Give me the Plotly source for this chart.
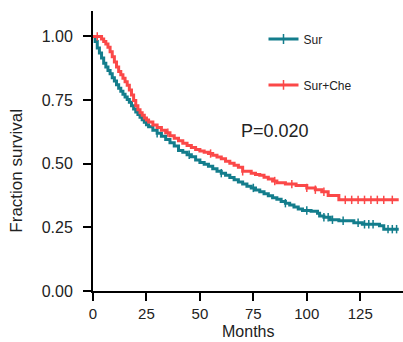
import numpy as np
import plotly.graph_objects as go

# ---- data ----
sur_t = [0, 1, 2, 3, 4, 5, 6, 7, 8, 9, 10, 11, 12, 13, 14, 15, 16, 17, 18, 19, 20, 21, 22, 23, 24, 25, 26,
         28, 30, 32, 34, 36, 38, 40, 42, 44, 46, 48, 50, 52, 54, 56, 58, 60, 62, 64, 66, 68, 70, 72, 74,
         76, 78, 80, 82, 84, 86, 88, 90, 92, 94, 96, 98, 102, 105, 106, 108, 111, 115, 122, 126, 134, 136, 143]
sur_s = [1.0, 0.98, 0.955, 0.935, 0.915, 0.895, 0.88, 0.866, 0.853, 0.838, 0.825, 0.81, 0.797, 0.785, 0.773,
         0.762, 0.752, 0.742, 0.728, 0.715, 0.703, 0.693, 0.683, 0.673, 0.663, 0.653, 0.645,
         0.632, 0.62, 0.608, 0.595, 0.582, 0.57, 0.552, 0.545, 0.535, 0.527, 0.515, 0.505, 0.498, 0.49,
         0.48, 0.47, 0.463, 0.455, 0.446, 0.437, 0.428, 0.42, 0.412, 0.405, 0.397, 0.39, 0.382, 0.374,
         0.366, 0.36, 0.352, 0.345, 0.338, 0.33, 0.322, 0.316, 0.313, 0.305, 0.295, 0.29, 0.28, 0.276,
         0.268, 0.262, 0.256, 0.243, 0.243]
sur_cens = [30, 45, 60, 75, 90, 100, 108, 110, 112, 117, 124, 127, 129, 131, 138, 140, 142]

che_t = [0, 3, 4, 5, 6, 7, 8, 9, 10, 11, 12, 13, 14, 15, 16, 17, 18, 19, 20, 21, 22, 23, 24, 25, 26,
         28, 30, 32, 34, 36, 38, 40, 42, 44, 46, 48, 50, 52, 54, 56, 58, 60, 62, 64, 66, 68, 70, 72, 74,
         76, 78, 80, 82, 84, 86, 90, 95, 100, 104, 107, 110, 115, 143]
che_s = [1.0, 1.0, 0.99, 0.98, 0.97, 0.958, 0.94, 0.92, 0.9, 0.88, 0.862, 0.85, 0.836, 0.822, 0.808, 0.79,
         0.77, 0.748, 0.728, 0.712, 0.70, 0.69, 0.68, 0.672, 0.664, 0.652, 0.642, 0.632, 0.622, 0.61,
         0.6, 0.59, 0.58, 0.572, 0.564, 0.556, 0.55, 0.545, 0.54, 0.533, 0.526, 0.52, 0.51, 0.502, 0.494,
         0.486, 0.47, 0.47, 0.463, 0.458, 0.455, 0.447, 0.44, 0.432, 0.425, 0.42, 0.414, 0.405, 0.398,
         0.39, 0.375, 0.358, 0.358]
che_cens = [2, 35, 55, 70, 85, 93, 100, 104, 108, 118, 121, 124, 127, 130, 133, 136, 140]

x_ticks = [0, 25, 50, 75, 100, 125]
y_ticks = [0.0, 0.25, 0.5, 0.75, 1.0]

TEAL = "#137d8c"
RED = "#fb4848"
FONT = "Liberation Sans, Arial, sans-serif"


def step_at(ts, ss, q):
    ts = np.asarray(ts, float)
    ss = np.asarray(ss, float)
    idx = np.searchsorted(ts, q, side="right") - 1
    return ss[np.clip(idx, 0, len(ss) - 1)]


fig = go.Figure()
for name, ts, ss, cens, col, leg in [("Sur", sur_t, sur_s, sur_cens, TEAL, "legend"),
                                     ("Sur+Che", che_t, che_s, che_cens, RED, "legend2")]:
    fig.add_trace(go.Scatter(x=ts, y=ss, mode="lines", line=dict(color=col, width=3, shape="hv"),
                             name=name, legend=leg, showlegend=False))
    fig.add_trace(go.Scatter(x=cens, y=step_at(ts, ss, cens), mode="markers",
                             marker=dict(symbol="line-ns", size=6, line=dict(color=col, width=1.5)),
                             showlegend=False))
    # legend entry
    fig.add_trace(go.Scatter(x=[None], y=[None], mode="lines+markers", name=name, legend=leg,
                             line=dict(color=col, width=3),
                             marker=dict(symbol="line-ns", size=7, line=dict(color=col, width=1.5))))

fig.update_layout(
    width=403, height=342,
    margin=dict(l=93, r=0, t=11, b=51),
    paper_bgcolor="white", plot_bgcolor="white",
    font=dict(family=FONT, color="#222"),
    legend=dict(x=0.55, y=0.9, xanchor="left", yanchor="middle", bgcolor="rgba(0,0,0,0)",
                font=dict(size=12), itemwidth=30),
    legend2=dict(x=0.55, y=0.736, xanchor="left", yanchor="middle", bgcolor="rgba(0,0,0,0)",
                 font=dict(size=12), itemwidth=30),
    xaxis=dict(range=[0, 145], tickvals=x_ticks, ticktext=[str(v) for v in x_ticks],
               showline=True, linecolor="black", linewidth=2, ticks="outside", ticklen=8, tickwidth=2,
               tickcolor="black", showgrid=False, zeroline=False, tickfont=dict(size=15)),
    yaxis=dict(range=[0, 1.10], tickvals=y_ticks, ticktext=[f"{v:.2f}" for v in y_ticks],
               showline=True, linecolor="black", linewidth=2, ticks="outside", ticklen=8, tickwidth=2,
               tickcolor="black", showgrid=False, zeroline=False, tickfont=dict(size=16),
               ticklabelstandoff=7),
    annotations=[
        dict(text="P=0.020", x=0.47, y=0.57, xref="paper", yref="paper", xanchor="left",
             yanchor="middle", showarrow=False, font=dict(size=18, color="#222")),
        dict(text="Months", x=0.5, y=-0.182, xref="paper", yref="paper", xanchor="center",
             yanchor="bottom", showarrow=False, font=dict(size=16, color="#222")),
        dict(text="Fraction survival", x=-0.245, y=0.43, xref="paper", yref="paper", xanchor="center",
             yanchor="middle", showarrow=False, textangle=-90, font=dict(size=17, color="#222")),
    ],
)

fig.write_html("out.html", config={"displayModeBar": False},
               post_script="document.body.style.margin='0';document.body.style.overflow='hidden';")
